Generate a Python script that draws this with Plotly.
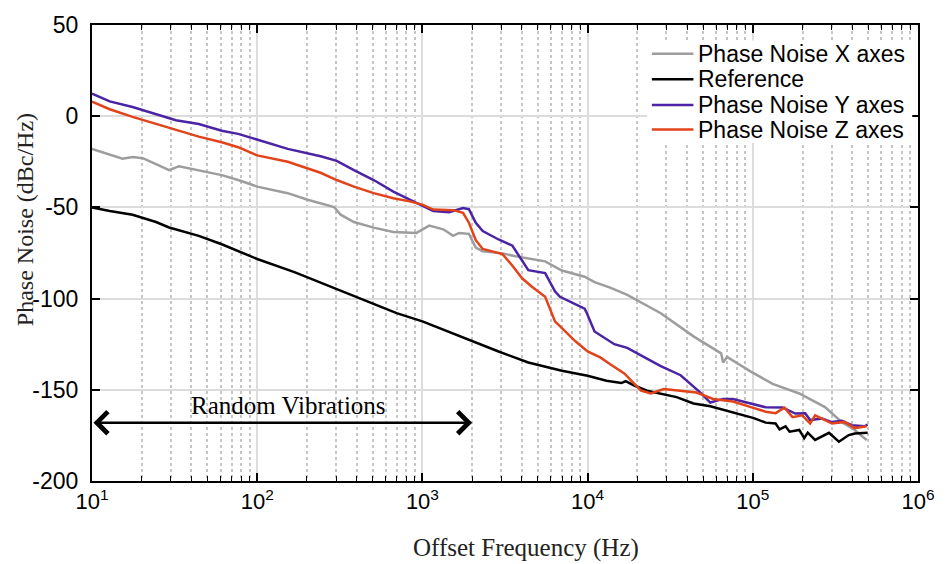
import numpy as np
import plotly.graph_objects as go

# ---- measured phase-noise curves (offset frequency in Hz, level in dBc/Hz) ----
f_x = [10, 12.8, 15.3, 17.6, 20.3, 24.4, 29.3, 33.6, 44.3, 61, 76.7, 100, 153, 202, 292,
       320, 385, 507, 667, 920, 1100, 1337, 1535, 1667, 1912, 2105, 2318, 3055, 3656,
       4623, 5535, 6986, 9594, 11015, 13700, 17380, 27730, 43750, 64310, 66100, 69860,
       97300, 131800, 191100, 273500, 345900, 414000, 488500]
pn_x = [-18, -21, -23.3, -22.4, -23, -26.3, -29.6, -27.4, -29.6, -32.3, -35, -38.6, -42.2,
        -45.8, -49.8, -54, -58, -61.1, -63.5, -64, -60, -62, -65.6, -64, -64.5, -72, -74,
        -75.2, -76.8, -78.3, -79.6, -84.6, -88, -91, -94, -98, -108, -120.7, -130, -135,
        -132, -140, -146.8, -152, -159.5, -167.8, -172, -177.5]

f_ref = [10, 12.8, 17.6, 20.5, 24.4, 29.3, 38.6, 44.3, 61, 76.7, 100, 168, 300, 450, 698,
         1000, 1762, 2891, 4375, 6986, 10000, 13000, 15990, 17000, 19000, 22870, 34590,
         43750, 55320, 101400, 119700, 137400, 145200, 157800, 167000, 191100, 204700,
         215000, 238300, 289100, 331900, 381100, 414000, 495500]
pn_ref = [-50, -52, -54, -56, -58, -61, -63.9, -65.6, -70.2, -73.8, -78.3, -85.5, -94.5,
          -101, -108, -112.5, -121.5, -129, -135, -139.6, -142.3, -145, -146.3, -145.3,
          -147.5, -150.5, -154, -157.5, -159, -165.5, -168, -168.5, -171.7, -170, -173,
          -172, -176.5, -173.5, -177.5, -173.6, -178.5, -174.8, -174, -173.5]

f_y = [10, 12.8, 17.6, 24.4, 32.2, 44.3, 61, 76.7, 100, 153, 242, 303, 385, 507, 667, 838,
       1000, 1164, 1452, 1762, 1912, 2105, 2318, 2891, 3507, 4027, 4375, 5535, 6346, 6800,
       9594, 9900, 11015, 14510, 17380, 23000, 27730, 36550, 43750, 48180, 55320, 66100,
       75900, 83600, 97300, 119700, 151400, 180800, 207600, 222400, 262400, 301300,
       345900, 397200, 475200, 495500]
pn_y = [12.4, 8.1, 5, 1, -2.2, -4.3, -8, -9.7, -13, -17.9, -22, -24.5, -29.6, -35, -41.3,
        -45.8, -49, -52, -52.6, -50.3, -51, -58.4, -63, -67.6, -71, -79, -84.4, -86, -96,
        -99, -105.5, -108, -118, -125, -127, -133, -137, -142, -148, -151.5, -157, -155,
        -155, -156, -157.6, -159.6, -159.7, -163, -162.8, -166.6, -165.7, -167.7, -167,
        -169.4, -170, -169]

f_z = [10, 12.8, 17.6, 24.4, 32.2, 44.3, 61, 76.7, 100, 153, 242, 303, 385, 507, 667, 838,
       1000, 1164, 1535, 1762, 1912, 2105, 2318, 2661, 3055, 3507, 4027, 4623, 5023, 5535,
       6346, 6986, 8440, 10000, 12000, 13700, 16680, 21050, 24160, 28900, 34590, 45620,
       57550, 75900, 97300, 119700, 137400, 155600, 173800, 199100, 222400, 238300,
       273500, 301300, 360600, 414000, 488500]
pn_z = [8, 3.8, -0.4, -4.3, -7.6, -11.2, -14.3, -17, -21.5, -25, -31, -35, -38.6, -42.2,
        -45, -46.7, -48.5, -51.2, -51.5, -53, -58.4, -68, -72.8, -74, -75.6, -82, -89,
        -93.6, -96, -99, -112.5, -116, -123.4, -129, -132.4, -136, -141, -150.4, -152,
        -149.6, -150.5, -151.5, -155, -156.4, -159.5, -162, -162.8, -159.8, -165, -164,
        -168.5, -164, -166.6, -168.5, -167.6, -171, -170]

series_names = ["Phase Noise X axes", "Reference", "Phase Noise Y axes", "Phase Noise Z axes"]
series_colors = ["#9d9d9d", "#000000", "#4a24a4", "#e2431a"]

# axis ticks
x_tick_exp = [1, 2, 3, 4, 5, 6]
y_ticks = [-200, -150, -100, -50, 0, 50]
y_tick_labels = ["-200", "-150", "-100", "-50", "0", "50"]

# vibration band annotation
vib_band = [10, 2000]
vib_level = -168
vib_label = "Random Vibrations"
vib_label_f = 155
vib_label_level = -158.5

SANS = "Liberation Sans, Arial, sans-serif"
SERIF = "Liberation Serif, Times New Roman, serif"

fig = go.Figure()
for name, f, v, c in zip(series_names, [f_x, f_ref, f_y, f_z], [pn_x, pn_ref, pn_y, pn_z], series_colors):
    fig.add_trace(go.Scatter(x=f, y=v, mode="lines", name=name,
                             line=dict(color=c, width=2.5)))

decades = [10 ** k for k in x_tick_exp]
minor_vals = [m * 10 ** k for k in x_tick_exp[:-1] for m in range(2, 10)]

fig.update_xaxes(
    type="log", range=[1, 6],
    tickvals=decades, ticktext=[f"10<sup>{k}</sup>" for k in x_tick_exp],
    ticks="inside", ticklen=8, tickwidth=1.5, tickcolor="black",
    showline=True, linecolor="black", linewidth=2, mirror="allticks",
    showgrid=True, gridcolor="#dcdcdc", gridwidth=2, zeroline=False,
    minor=dict(tickvals=minor_vals, ticks="inside", ticklen=5, tickwidth=1.2,
               tickcolor="black", showgrid=True, gridcolor="#c6c6c6",
               griddash="dot", gridwidth=1.6),
    tickfont=dict(family=SANS, size=22, color="black"),
)
fig.update_yaxes(
    range=[-200, 50], tickvals=y_ticks, ticktext=y_tick_labels,
    ticks="inside", ticklen=8, tickwidth=1.5, tickcolor="black",
    showline=True, linecolor="black", linewidth=2, mirror="allticks",
    showgrid=True, gridcolor="#dcdcdc", gridwidth=2, zeroline=False,
    ticklabelstandoff=7,
    tickfont=dict(family=SANS, size=23, color="black"),
)

# legend: white panel over the grid, then a line sample and label per series
leg_x0, leg_x1, leg_text_x = 0.6778, 0.7281, 0.7317
leg_rows = [0.9372, 0.8810, 0.8247, 0.7706]
fig.add_shape(type="rect", xref="paper", yref="paper", x0=0.672, x1=0.993,
              y0=0.742, y1=0.966, fillcolor="white", line=dict(width=0), layer="above")
for name, c, yr in zip(series_names, series_colors, leg_rows):
    fig.add_shape(type="line", xref="paper", yref="paper", x0=leg_x0, x1=leg_x1,
                  y0=yr, y1=yr, line=dict(color=c, width=2.5), layer="above")
    fig.add_annotation(x=leg_text_x, y=yr, xref="paper", yref="paper", text=name,
                       xanchor="left", yanchor="middle", showarrow=False,
                       font=dict(family=SANS, size=23, color="black"))

fig.add_annotation(
    x=np.log10(vib_band[1]), y=vib_level, ax=np.log10(vib_band[0]), ay=vib_level,
    xref="x", yref="y", axref="x", ayref="y", text="", showarrow=True,
    arrowside="end+start", arrowhead=4, startarrowhead=4,
    arrowsize=1.7, startarrowsize=1.7, arrowwidth=2.5, arrowcolor="black",
    standoff=0, startstandoff=0,
)
fig.add_annotation(
    x=np.log10(vib_label_f), y=vib_label_level, xref="x", yref="y",
    text=vib_label, showarrow=False,
    font=dict(family=SERIF, size=25, color="black"),
)
fig.add_annotation(
    x=0.526, y=-0.146, xref="paper", yref="paper", text="Offset Frequency (Hz)",
    xanchor="center", yanchor="middle",
    showarrow=False, font=dict(family=SERIF, size=25, color="#222"),
)
fig.add_annotation(
    x=-0.0802, y=0.5736, xref="paper", yref="paper", text="Phase Noise (dBc/Hz)",
    xanchor="center", yanchor="middle",
    textangle=-90, showarrow=False, font=dict(family=SERIF, size=24, color="#222"),
)

fig.update_layout(
    width=947, height=564,
    margin=dict(l=92, r=20, t=19, b=83),
    plot_bgcolor="white", paper_bgcolor="white",
    showlegend=False,
)

fig.write_html("out.html")
